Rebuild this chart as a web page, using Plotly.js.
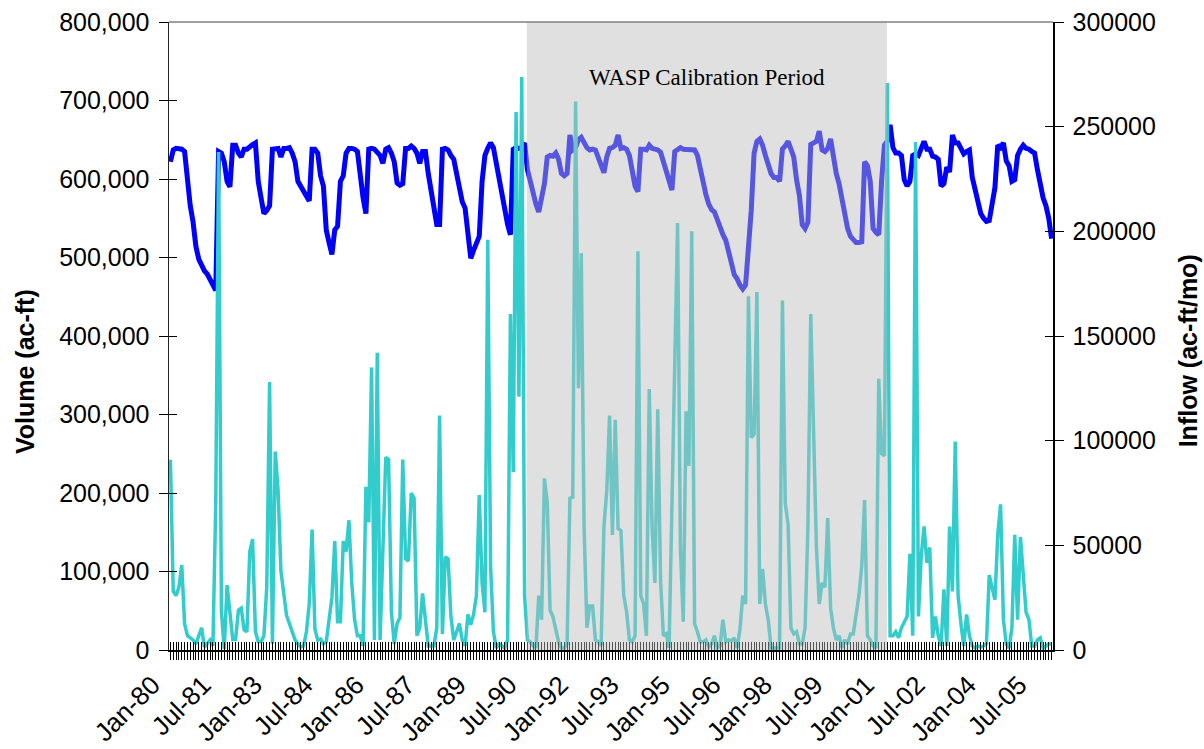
<!DOCTYPE html>
<html>
<head>
<meta charset="utf-8">
<script src="https://cdn.plot.ly/plotly-3.0.1.min.js"></script>
<style>
  html, body { margin: 0; padding: 0; background: #ffffff; }
  #chart { width: 1204px; height: 749px; }
</style>
</head>
<body>
<div id="chart"></div>
<script>
// Month categories, Jan-80 .. Dec-05
const monthAbbr = ['Jan','Feb','Mar','Apr','May','Jun','Jul','Aug','Sep','Oct','Nov','Dec'];
const months = [];
for (let y = 1980; y <= 2005; y++) {
  for (let m = 0; m < 12; m++) months.push(monthAbbr[m] + '-' + String(y).slice(2));
}

// Labelled months on the category axis
const tickLabels = ['Jan-80','Jul-81','Jan-83','Jul-84','Jan-86','Jul-87','Jan-89','Jul-90','Jan-92',
                    'Jul-93','Jan-95','Jul-96','Jan-98','Jul-99','Jan-01','Jul-02','Jan-04','Jul-05'];

// Reservoir volume (ac-ft), one row per year
const volume = [
  622000, 637000, 639000, 639000, 638000, 635000, 597000, 566000, 545000, 514000, 498000, 489000,
  483000, 479000, 473000, 466000, 458000, 635000, 633000, 622000, 597000, 590000, 643000, 643000,
  633000, 628000, 638000, 638000, 642000, 644000, 646000, 597000, 576000, 556000, 560000, 566000,
  638000, 638000, 639000, 628000, 639000, 639000, 640000, 633000, 622000, 597000, 590000, 584000,
  576000, 572000, 638000, 638000, 633000, 604000, 591000, 535000, 519000, 504000, 535000, 540000,
  597000, 604000, 633000, 639000, 639000, 638000, 635000, 602000, 576000, 556000, 638000, 639000,
  638000, 634000, 630000, 620000, 638000, 640000, 633000, 622000, 595000, 592000, 594000, 639000,
  639000, 642000, 639000, 633000, 620000, 635000, 635000, 607000, 584000, 555000, 542000, 542000,
  638000, 639000, 637000, 630000, 625000, 607000, 584000, 571000, 563000, 522000, 499000, 509000,
  518000, 527000, 597000, 630000, 639000, 646000, 640000, 620000, 594000, 576000, 556000, 542000,
  529000, 638000, 640000, 639000, 640000, 646000, 612000, 597000, 581000, 568000, 558000, 576000,
  594000, 628000, 630000, 629000, 633000, 625000, 607000, 604000, 607000, 656000, 637000, 640000,
  650000, 653000, 646000, 640000, 637000, 638000, 637000, 628000, 620000, 608000, 628000, 639000,
  640000, 643000, 656000, 639000, 640000, 638000, 630000, 610000, 591000, 584000, 638000, 638000,
  637000, 643000, 639000, 638000, 637000, 634000, 622000, 607000, 594000, 586000, 635000, 637000,
  640000, 638000, 638000, 638000, 638000, 637000, 630000, 612000, 591000, 580000, 568000, 561000,
  558000, 548000, 537000, 529000, 522000, 504000, 493000, 478000, 473000, 465000, 460000, 465000,
  505000, 560000, 633000, 648000, 651000, 643000, 630000, 616000, 607000, 602000, 602000, 597000,
  638000, 642000, 648000, 638000, 628000, 599000, 579000, 542000, 537000, 545000, 644000, 646000,
  648000, 661000, 637000, 635000, 639000, 651000, 625000, 607000, 594000, 573000, 555000, 537000,
  527000, 522000, 519000, 519000, 520000, 622000, 617000, 597000, 537000, 532000, 529000, 597000,
  643000, 648000, 669000, 640000, 633000, 633000, 630000, 599000, 591000, 597000, 630000, 632000,
  630000, 639000, 648000, 638000, 638000, 629000, 628000, 625000, 591000, 594000, 615000, 609000,
  656000, 646000, 646000, 639000, 632000, 635000, 637000, 602000, 586000, 573000, 556000, 550000,
  546000, 547000, 568000, 589000, 643000, 640000, 646000, 623000, 617000, 597000, 599000, 630000,
  638000, 643000, 639000, 638000, 635000, 633000, 612000, 591000, 576000, 566000, 550000, 524000
];

// Monthly inflow (ac-ft/mo), one row per year
const inflow = [
  90900, 28000, 26000, 30000, 40600, 12600, 6800, 5800, 4800, 2900, 6800, 10600,
  1400, 2900, 4800, 2000, 70000, 237900, 18400, 500, 31000, 18000, 5000, 5000,
  19000, 20000, 9700, 8700, 47000, 53000, 8700, 3900, 3900, 6800, 30000, 128000,
  3000, 94800, 76000, 37700, 26000, 16400, 12600, 8700, 4800, 2900, 1400, 2000,
  8700, 22000, 57500, 10000, 4800, 5200, 2900, 3900, 16000, 25000, 52000, 13500,
  13500, 52000, 47000, 62000, 32000, 14500, 6800, 6800, 1900, 78000, 61000, 135000,
  4800, 142000, 4800, 51000, 92000, 91000, 18000, 2900, 12600, 15500, 91000, 43500,
  42500, 75000, 72500, 6800, 10600, 27000, 14500, 1900, 1900, 1900, 10600, 112000,
  7700, 44500, 43500, 16000, 4800, 8700, 12600, 4800, 2000, 17000, 12000, 17000,
  26000, 74000, 32000, 18000, 196000, 40000, 8700, 1000, 2900, 2000, 1000, 4800,
  160500, 85000, 257000, 121000, 273700, 26000, 4800, 3900, 2000, 1000, 26000, 14500,
  82000, 70600, 19000, 16000, 10600, 3900, 1000, 1000, 2900, 72500, 73000, 262000,
  125000, 189500, 59000, 10600, 21000, 21000, 4800, 3900, 2000, 59000, 76000, 112000,
  55000, 110000, 58000, 57000, 26000, 18400, 4800, 3900, 6800, 190500, 26000, 22000,
  6800, 124700, 59000, 32000, 115000, 33000, 6800, 7700, 1000, 68700, 126700, 204000,
  49000, 13500, 114000, 88000, 200000, 12600, 8700, 3900, 3900, 4800, 1400, 2900,
  6800, 1000, 2000, 14500, 3900, 4800, 4400, 5800, 1000, 9700, 26000, 22000,
  169000, 101500, 103000, 171000, 22000, 38700, 22000, 14500, 1000, 1000, 1000, 1000,
  167000, 70000, 60000, 10600, 7700, 8700, 2900, 2900, 10600, 59000, 160500, 107000,
  49000, 22000, 32000, 30000, 63000, 20000, 10600, 4800, 6800, 1000, 4800, 2900,
  7700, 7700, 16000, 26000, 40000, 71600, 6800, 4800, 2000, 1000, 129600, 93800,
  92800, 270800, 6800, 6800, 8700, 5800, 10600, 13500, 16000, 46000, 6800, 242700,
  16000, 45000, 59000, 41600, 49000, 5800, 16000, 6800, 1900, 29000, 1900, 59000,
  28000, 99600, 26000, 12600, 1900, 17000, 6800, 1900, 1000, 1900, 1400, 1900,
  2900, 35800, 29000, 24000, 55000, 69600, 14500, 2900, 1000, 10600, 55000, 14500,
  54000, 37700, 18000, 14500, 1900, 1900, 4800, 5800, 1000, 1900, 2900, 2900
];

// Calibration window, in month-index units along the category axis
const calibrationPeriod = [125.8, 252.9];
const calibrationLabel = 'WASP Calibration Period';

const idx = months.map((_, i) => i);
const xRange = [-0.5, months.length - 0.5];
const tickText = months.map(m => (tickLabels.indexOf(m) >= 0 ? m : ''));
const blankText = months.map(() => '');

const sans = 'Liberation Sans, Arial, sans-serif';
const tickFont = { family: sans, size: 25, color: '#000000' };

const traces = [
  { x: idx, y: volume, xaxis: 'x', yaxis: 'y', type: 'scatter', mode: 'lines',
    line: { color: '#0000ff', width: 5 }, hoverinfo: 'skip', showlegend: false },
  { x: idx, y: inflow, xaxis: 'x', yaxis: 'y2', type: 'scatter', mode: 'lines',
    line: { color: '#33cccc', width: 3.5 }, hoverinfo: 'skip', showlegend: false },
  // empty traces that carry the inner halves of the crossing tick marks
  { x: [], y: [], xaxis: 'x3', yaxis: 'y', type: 'scatter', showlegend: false },
  { x: [], y: [], xaxis: 'x', yaxis: 'y3', type: 'scatter', showlegend: false },
  { x: [], y: [], xaxis: 'x', yaxis: 'y4', type: 'scatter', showlegend: false }
];

const layout = {
  width: 1204, height: 749,
  margin: { l: 169, r: 151, t: 22, b: 99, pad: 0 },
  paper_bgcolor: '#ffffff', plot_bgcolor: '#ffffff',
  showlegend: false,
  xaxis: {
    range: xRange, tickmode: 'array', tickvals: idx, ticktext: tickText,
    ticks: 'outside', ticklen: 8, tickwidth: 1, tickcolor: '#000000',
    tickangle: -45, tickfont: { family: sans, size: 26, color: '#000000' },
    ticklabelshift: -18,
    showline: true, linecolor: '#000000', linewidth: 1.5,
    showgrid: false, zeroline: false, fixedrange: true
  },
  xaxis3: {
    overlaying: 'x', anchor: 'y', side: 'bottom',
    range: xRange, tickmode: 'array', tickvals: idx, ticktext: blankText,
    ticks: 'inside', ticklen: 8, tickwidth: 1, tickcolor: '#000000',
    showticklabels: false, showline: false, showgrid: false, zeroline: false, fixedrange: true
  },
  yaxis: {
    range: [0, 800000], tickmode: 'linear', tick0: 0, dtick: 100000, tickformat: ',d',
    ticks: 'outside', ticklen: 9, tickwidth: 1, tickcolor: '#000000',
    tickfont: tickFont, ticklabelstandoff: 4,
    showline: true, linecolor: '#222222', linewidth: 1.5,
    showgrid: false, zeroline: false, fixedrange: true
  },
  yaxis3: {
    overlaying: 'y', anchor: 'x', side: 'left',
    range: [0, 800000], tickmode: 'linear', tick0: 0, dtick: 100000,
    ticks: 'inside', ticklen: 8, tickwidth: 1, tickcolor: '#000000',
    showticklabels: false, showline: false, showgrid: false, zeroline: false, fixedrange: true
  },
  yaxis2: {
    overlaying: 'y', anchor: 'x', side: 'right',
    range: [0, 300000], tickmode: 'linear', tick0: 0, dtick: 50000, tickformat: 'd',
    ticks: 'outside', ticklen: 9, tickwidth: 1, tickcolor: '#000000',
    tickfont: tickFont, ticklabelstandoff: 4,
    showline: true, linecolor: '#000000', linewidth: 1.5,
    showgrid: false, zeroline: false, fixedrange: true
  },
  yaxis4: {
    overlaying: 'y', anchor: 'x', side: 'right',
    range: [0, 300000], tickmode: 'linear', tick0: 0, dtick: 50000,
    ticks: 'inside', ticklen: 8, tickwidth: 1, tickcolor: '#000000',
    showticklabels: false, showline: false, showgrid: false, zeroline: false, fixedrange: true
  },
  shapes: [
    { type: 'rect', xref: 'x', yref: 'paper',
      x0: calibrationPeriod[0], x1: calibrationPeriod[1], y0: 0, y1: 1,
      fillcolor: 'rgba(188,188,188,0.46)', line: { width: 0 }, layer: 'above' },
    { type: 'line', xref: 'paper', yref: 'paper', x0: 0, x1: 1, y0: 1, y1: 1,
      line: { color: '#808080', width: 1.5 }, layer: 'above' }
  ],
  annotations: [
    { text: calibrationLabel, xref: 'x', yref: 'paper',
      x: (calibrationPeriod[0] + calibrationPeriod[1]) / 2, y: 0.912,
      xanchor: 'center', yanchor: 'middle', showarrow: false,
      font: { family: 'Liberation Serif, Times New Roman, serif', size: 23, color: '#000000' } },
    { text: '<b>Volume (ac-ft)</b>', xref: 'paper', yref: 'paper',
      x: -0.163, y: 0.444, xanchor: 'center', yanchor: 'middle', textangle: -90, showarrow: false,
      font: { family: sans, size: 25, color: '#000000' } },
    { text: '<b>Inflow (ac-ft/mo)</b>', xref: 'paper', yref: 'paper',
      x: 1.153, y: 0.476, xanchor: 'center', yanchor: 'middle', textangle: -90, showarrow: false,
      font: { family: sans, size: 25, color: '#000000' } }
  ]
};

Plotly.newPlot('chart', traces, layout, { displayModeBar: false, staticPlot: true });
</script>
</body>
</html>
